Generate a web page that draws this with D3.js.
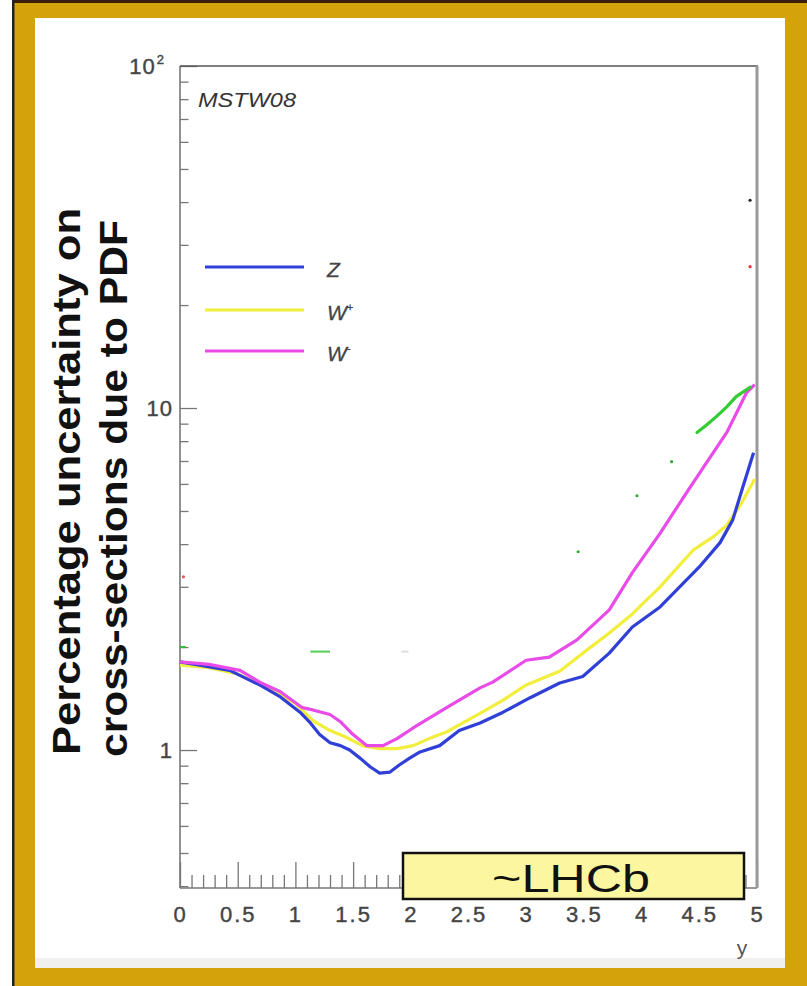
<!DOCTYPE html>
<html>
<head>
<meta charset="utf-8">
<script src="https://cdn.jsdelivr.net/npm/d3@7"></script>
<style>
  body { margin: 0; background: #fff; }
  text { font-family: "Liberation Sans", Arial, sans-serif; }
</style>
</head>
<body>
<div class="chart"></div>
<script>
// rapidity values and % PDF uncertainty
var zX   = [0, 0.17, 0.43, 0.69, 0.87, 1.04, 1.13, 1.21, 1.30, 1.39, 1.47, 1.56, 1.65, 1.73, 1.82, 1.90, 1.99, 2.08, 2.25, 2.42, 2.60, 2.80, 3.03, 3.29, 3.49, 3.72, 3.92, 4.16, 4.33, 4.50, 4.68, 4.79, 4.87, 4.97];
var zVal = [1.81, 1.77, 1.71, 1.55, 1.43, 1.29, 1.20, 1.11, 1.05, 1.03, 1.0, 0.947, 0.892, 0.856, 0.862, 0.904, 0.947, 0.987, 1.03, 1.14, 1.20, 1.29, 1.42, 1.57, 1.64, 1.92, 2.29, 2.62, 3.0, 3.43, 4.04, 4.71, 5.77, 7.4];

var wpX   = [0, 0.25, 0.5, 0.75, 1.0, 1.15, 1.30, 1.44, 1.58, 1.73, 1.88, 2.02, 2.16, 2.31, 2.45, 2.60, 2.80, 3.0, 3.29, 3.5, 3.72, 3.92, 4.16, 4.45, 4.62, 4.74, 4.87, 4.98];
var wpVal = [1.77, 1.74, 1.67, 1.52, 1.37, 1.22, 1.14, 1.09, 1.03, 1.01, 1.01, 1.03, 1.08, 1.13, 1.20, 1.28, 1.40, 1.55, 1.70, 1.93, 2.2, 2.5, 3.0, 3.85, 4.2, 4.55, 5.3, 6.2];

var wmX   = [0, 0.25, 0.52, 0.69, 0.87, 1.06, 1.15, 1.30, 1.39, 1.50, 1.62, 1.76, 1.88, 2.02, 2.31, 2.60, 2.71, 3.0, 3.2, 3.44, 3.72, 3.92, 4.16, 4.39, 4.56, 4.74, 4.91, 4.98];
var wmVal = [1.81, 1.78, 1.71, 1.58, 1.48, 1.33, 1.31, 1.27, 1.21, 1.11, 1.03, 1.03, 1.08, 1.16, 1.33, 1.52, 1.58, 1.83, 1.87, 2.1, 2.57, 3.3, 4.3, 5.66, 6.9, 8.5, 11.1, 11.7];

// stray bits left in the picture
var greenX   = [4.48, 4.56, 4.65, 4.74, 4.82, 4.94];
var greenVal = [8.48, 8.9, 9.45, 10.1, 10.8, 11.5];
var dotX   = [3.45, 3.96, 4.26, 4.94, 4.94, 0.03];
var dotVal = [3.8, 5.54, 6.97, 40.5, 25.9, 3.21];
var dotCol = ["#3a3", "#3a3", "#3a3", "#222", "#e33", "#e55"];
var dashX0  = [0, 1.13, 1.92];
var dashX1  = [0.05, 1.30, 1.98];
var dashVal = [2.0, 1.94, 1.94];
var dashCol = ["#3b3", "#5c5", "#ddd"];

var xTicks = [0, 0.5, 1, 1.5, 2, 2.5, 3, 3.5, 4, 4.5, 5];
var yMajor = [1, 10, 100];
var seriesNames = ["Z", "W", "W"];
var seriesSup = ["", "+", "-"];
var colors = ["#2f3fd8", "#f2ee3c", "#e84be8"];

var W = 807, H = 986;
var svg = d3.select(".chart").append("svg")
  .attr("width", W).attr("height", H);

// slide frame
svg.append("rect").attr("x", 0).attr("y", 0).attr("width", W).attr("height", H).attr("fill", "#fff");
svg.append("rect").attr("x", 12).attr("y", 0).attr("width", W - 12).attr("height", 18).attr("fill", "#d4a20a");
svg.append("rect").attr("x", 12).attr("y", 0).attr("width", 23).attr("height", H).attr("fill", "#d4a20a");
svg.append("rect").attr("x", 785).attr("y", 0).attr("width", 22).attr("height", H).attr("fill", "#d4a20a");
svg.append("rect").attr("x", 12).attr("y", 968).attr("width", W - 12).attr("height", 18).attr("fill", "#d4a20a");
svg.append("rect").attr("x", 12).attr("y", 0).attr("width", W - 12).attr("height", 3).attr("fill", "#3a200c");
svg.append("rect").attr("x", 12).attr("y", 0).attr("width", 2.5).attr("height", H).attr("fill", "#222");
svg.append("rect").attr("x", 35).attr("y", 958).attr("width", 750).attr("height", 10).attr("fill", "#f0f0ee");

var x = d3.scaleLinear().domain([0, 5]).range([180, 757]);
var y = d3.scaleLog().domain([0.395, 100]).range([888, 66]);

// minor ticks
var xMinor = d3.range(0, 50).map(function(i) { return i / 10; }).filter(function(v) { return Math.round(v * 10) % 5 != 0; });
var yMinor = [0.4, 0.5, 0.6, 0.7, 0.8, 0.9, 2, 3, 4, 5, 6, 7, 8, 9, 20, 30, 40, 50, 60, 70, 80, 90];

svg.append("g").attr("transform", "translate(0,888)")
  .call(d3.axisBottom(x).tickValues(xMinor).tickSize(-13).tickFormat(""))
  .call(function(g) { g.select(".domain").remove(); g.selectAll("line").attr("stroke", "#777").attr("stroke-width", 1.3); });

var xAxis = svg.append("g").attr("transform", "translate(0,888)")
  .call(d3.axisBottom(x).tickValues(xTicks).tickSize(-26).tickPadding(18).tickFormat(d3.format("~g")));
xAxis.select(".domain").remove();
xAxis.selectAll("line").attr("stroke", "#777").attr("stroke-width", 1.3);
xAxis.selectAll("text").attr("font-size", 22).attr("fill", "#444").attr("letter-spacing", 2)
  .attr("stroke", "#444").attr("stroke-width", 0.4).attr("font-family", "Liberation Sans, Arial");

svg.append("g").attr("transform", "translate(180,0)")
  .call(d3.axisLeft(y).tickValues(yMinor).tickSize(-8.5).tickFormat(""))
  .call(function(g) { g.select(".domain").remove(); g.selectAll("line").attr("stroke", "#777").attr("stroke-width", 1.3); });

var yAxis = svg.append("g").attr("transform", "translate(180,0)")
  .call(d3.axisLeft(y).tickValues(yMajor).tickSize(-17).tickPadding(7).tickFormat(function(d) { return d == 100 ? "10" : String(d); }));
yAxis.select(".domain").remove();
yAxis.selectAll("line").attr("stroke", "#777").attr("stroke-width", 1.3);
yAxis.selectAll("text").attr("font-size", 22).attr("fill", "#444").attr("letter-spacing", 1)
  .attr("stroke", "#444").attr("stroke-width", 0.4).attr("font-family", "Liberation Sans, Arial");
yAxis.selectAll(".tick").filter(function(d) { return d == 100; }).select("text")
  .attr("x", -15)
  .append("tspan").text("2").attr("font-size", 13).attr("dy", "-0.7em").attr("dx", 1);

// plot frame
svg.append("line").attr("x1", 180).attr("x2", 180).attr("y1", 66).attr("y2", 888).attr("stroke", "#777").attr("stroke-width", 1.6);
svg.append("line").attr("x1", 180).attr("x2", 757).attr("y1", 888).attr("y2", 888).attr("stroke", "#777").attr("stroke-width", 1.6);
svg.append("line").attr("x1", 180).attr("x2", 758).attr("y1", 66).attr("y2", 66).attr("stroke", "#555").attr("stroke-width", 1.6);
svg.append("line").attr("x1", 757).attr("x2", 757).attr("y1", 66).attr("y2", 888).attr("stroke", "#999").attr("stroke-width", 3);

// curves
var line = d3.line().x(function(d) { return x(d[0]); }).y(function(d) { return y(d[1]); });
var zData  = d3.zip(zX, zVal);
var wpData = d3.zip(wpX, wpVal);
var wmData = d3.zip(wmX, wmVal);
var curves = [wpData, zData, wmData];
var curveCol = [colors[1], colors[0], colors[2]];
curves.forEach(function(c, i) {
  svg.append("path").datum(c).attr("d", line)
    .attr("fill", "none").attr("stroke", curveCol[i]).attr("stroke-width", 3.2).attr("stroke-linejoin", "round");
});

svg.append("path").datum(d3.zip(greenX, greenVal)).attr("d", line)
  .attr("fill", "none").attr("stroke", "#3c3").attr("stroke-width", 3.2).attr("stroke-linecap", "round");

svg.selectAll(".dot").data(dotX).enter().append("circle")
  .attr("cx", function(d) { return x(d); })
  .attr("cy", function(d, i) { return y(dotVal[i]); })
  .attr("r", 1.6)
  .attr("fill", function(d, i) { return dotCol[i]; });

svg.selectAll(".dash").data(dashX0).enter().append("line")
  .attr("x1", function(d) { return x(d); })
  .attr("x2", function(d, i) { return x(dashX1[i]); })
  .attr("y1", function(d, i) { return y(dashVal[i]); })
  .attr("y2", function(d, i) { return y(dashVal[i]); })
  .attr("stroke", function(d, i) { return dashCol[i]; })
  .attr("stroke-width", 2);

// legend
var legY = [267, 310, 351];
seriesNames.forEach(function(n, i) {
  svg.append("line").attr("x1", 205).attr("x2", 304).attr("y1", legY[i]).attr("y2", legY[i])
    .attr("stroke", colors[i]).attr("stroke-width", 3.2);
  var t = svg.append("text").attr("x", 327).attr("y", legY[i] + 10)
    .attr("font-size", 21).attr("font-style", "italic").attr("fill", "#444")
    .attr("stroke", "#444").attr("stroke-width", 0.3).text(n);
  if (seriesSup[i]) {
    t.append("tspan").text(seriesSup[i]).attr("font-size", 11).attr("dy", "-0.8em");
  }
});

svg.append("text").attr("x", 198).attr("y", 107)
  .attr("font-size", 20).attr("font-style", "italic").attr("fill", "#333")
  .attr("textLength", 98).attr("lengthAdjust", "spacingAndGlyphs").text("MSTW08");

// axis titles
svg.append("text").attr("transform", "translate(80,481.5) rotate(-90)")
  .attr("text-anchor", "middle").attr("font-size", 39).attr("font-weight", "bold").attr("fill", "#111")
  .attr("textLength", 547).attr("lengthAdjust", "spacingAndGlyphs")
  .text("Percentage uncertainty on");
svg.append("text").attr("transform", "translate(127,488.5) rotate(-90)")
  .attr("text-anchor", "middle").attr("font-size", 39).attr("font-weight", "bold").attr("fill", "#111")
  .attr("textLength", 537).attr("lengthAdjust", "spacingAndGlyphs")
  .text("cross-sections due to PDF");

svg.append("text").attr("x", 742).attr("y", 955).attr("text-anchor", "middle")
  .attr("font-size", 21).attr("fill", "#555").text("y");

// LHCb acceptance box
svg.append("rect").attr("x", 403).attr("y", 853).attr("width", 341).attr("height", 46)
  .attr("fill", "#fdf6a0").attr("stroke", "#111").attr("stroke-width", 2.5);
svg.append("text").attr("x", 571).attr("y", 892).attr("text-anchor", "middle")
  .attr("font-size", 38).attr("fill", "#111")
  .attr("textLength", 158).attr("lengthAdjust", "spacingAndGlyphs").text("~LHCb");
</script>
</body>
</html>
